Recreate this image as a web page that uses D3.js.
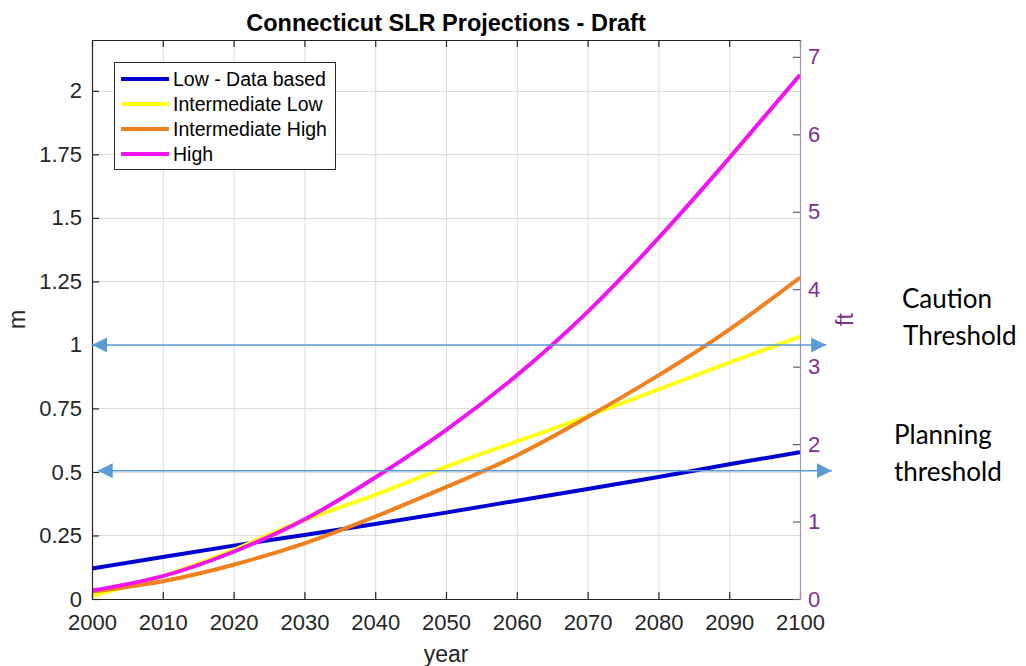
<!DOCTYPE html>
<html>
<head>
<meta charset="utf-8">
<script src="https://cdn.jsdelivr.net/npm/d3@7"></script>
<style>
  body { margin: 0; background: #fff; }
  svg text { font-family: "Liberation Sans", Arial, sans-serif; }
</style>
</head>
<body>
<svg id="chart" width="1026" height="666"></svg>
<script>
// Connecticut sea level rise projections, metres above the 2000 baseline
const years = [2000, 2010, 2020, 2030, 2040, 2050, 2060, 2070, 2080, 2090, 2100];
const lowDataBased     = [0.12, 0.165, 0.21, 0.252, 0.295, 0.34, 0.387, 0.433, 0.48, 0.53, 0.578];
const intermediateLow  = [0.012, 0.09, 0.193, 0.31, 0.41, 0.52, 0.62, 0.72, 0.825, 0.93, 1.033];
const intermediateHigh = [0.029, 0.07, 0.135, 0.219, 0.324, 0.44, 0.565, 0.716, 0.88, 1.06, 1.265];
const high             = [0.033, 0.09, 0.186, 0.313, 0.478, 0.665, 0.88, 1.13, 1.42, 1.735, 2.063];

const seriesNames = ["Low - Data based", "Intermediate Low", "Intermediate High", "High"];
const seriesValues = [lowDataBased, intermediateLow, intermediateHigh, high];
const seriesColors = ["#0000d2", "#ffff14", "#f0801e", "#f014f0"];

const xTicks = [2000, 2010, 2020, 2030, 2040, 2050, 2060, 2070, 2080, 2090, 2100];
const mTicks = [0, 0.25, 0.5, 0.75, 1, 1.25, 1.5, 1.75, 2];
const ftTicks = [0, 1, 2, 3, 4, 5, 6, 7];
const M_TO_FT = 3.28084;

// Threshold arrows (metres) and the year span each arrow covers
const thresholdLabels = [["Caution", "Threshold"], ["Planning", "threshold"]];
const thresholdValues = [1.0, 0.505];
const thresholdSpans = [[2000, 2103.7], [2000.8, 2104.5]];

const svg = d3.select("#chart");
const plotLeft = 92, plotRight = 800, plotTop = 40, plotBottom = 599;

const x = d3.scaleLinear().domain([2000, 2100]).range([plotLeft, plotRight]);
const y = d3.scaleLinear().domain([0, 2.2]).range([plotBottom, plotTop]);
const yFt = d3.scaleLinear().domain([0, 2.2 * M_TO_FT]).range([plotBottom, plotTop]);

const ink = "#262626";
const purple = "#7e2f8e";

// grid
const grid = svg.append("g").attr("stroke", "#dcdcdc").attr("stroke-width", 1);
grid.selectAll("line.v").data(xTicks.slice(1, -1)).join("line")
  .attr("class", "v")
  .attr("x1", d => x(d) + 0.5).attr("x2", d => x(d) + 0.5)
  .attr("y1", plotTop).attr("y2", plotBottom);
grid.selectAll("line.h").data(mTicks.slice(1)).join("line")
  .attr("class", "h")
  .attr("x1", plotLeft).attr("x2", plotRight)
  .attr("y1", d => Math.round(y(d)) + 0.5).attr("y2", d => Math.round(y(d)) + 0.5);

// series curves
svg.append("clipPath").attr("id", "plotClip")
  .append("rect").attr("x", plotLeft).attr("y", plotTop)
  .attr("width", plotRight - plotLeft).attr("height", plotBottom - plotTop);

const line = d3.line()
  .x((d, i) => x(years[i]))
  .y(d => y(d))
  .curve(d3.curveNatural);

svg.append("g").attr("clip-path", "url(#plotClip)")
  .selectAll("path").data(seriesValues).join("path")
  .attr("d", line)
  .attr("fill", "none")
  .attr("stroke", (d, i) => seriesColors[i])
  .attr("stroke-width", 4)
  .attr("stroke-linecap", "butt");

// axes
const fontSize = 22;
const styleAxis = (g, color, domainColor) => {
  g.selectAll(".domain").attr("stroke", domainColor || color).attr("stroke-width", 1.2);
  g.selectAll(".tick line").attr("stroke", color).attr("stroke-width", 1.2);
  g.selectAll(".tick text").attr("fill", color).style("font-size", fontSize + "px")
    .style("font-family", "'Liberation Sans', Arial, sans-serif");
};

svg.append("g").attr("transform", `translate(0,${plotBottom})`)
  .call(d3.axisBottom(x).tickValues(xTicks).tickFormat(d3.format("d")).tickSize(-7).tickSizeOuter(0).tickPadding(15))
  .call(g => styleAxis(g, ink));

svg.append("g").attr("transform", `translate(0,${plotTop})`)
  .call(d3.axisTop(x).tickValues(xTicks).tickFormat("").tickSize(-7).tickSizeOuter(0))
  .call(g => styleAxis(g, ink));

svg.append("g").attr("transform", `translate(${plotLeft},0)`)
  .call(d3.axisLeft(y).tickValues(mTicks).tickFormat(d => String(d)).tickSize(-7).tickSizeOuter(0).tickPadding(10))
  .call(g => styleAxis(g, ink));

svg.append("g").attr("transform", `translate(${plotRight},0)`)
  .call(d3.axisRight(yFt).tickValues(ftTicks).tickSize(-7).tickSizeOuter(0).tickPadding(8))
  .call(g => styleAxis(g, purple, "#a58fb4"))
  .call(g => g.selectAll(".tick line").attr("stroke", "#6a5a72"));

// titles
svg.append("text").attr("x", (plotLeft + plotRight) / 2).attr("y", 31)
  .attr("text-anchor", "middle").attr("fill", "#000")
  .style("font-size", "23.5px").style("font-weight", "bold")
  .text("Connecticut SLR Projections - Draft");

svg.append("text").attr("x", (plotLeft + plotRight) / 2).attr("y", 662)
  .attr("text-anchor", "middle").attr("fill", ink).style("font-size", "23px")
  .text("year");

svg.append("text").attr("transform", `translate(25,${(plotTop + plotBottom) / 2}) rotate(-90)`)
  .attr("text-anchor", "middle").attr("fill", ink).style("font-size", "23px")
  .text("m");

svg.append("text").attr("transform", `translate(853,${(plotTop + plotBottom) / 2}) rotate(-90)`)
  .attr("text-anchor", "middle").attr("fill", purple).style("font-size", "23px")
  .text("ft");

// legend
const legend = svg.append("g");
legend.append("rect").attr("x", 114.5).attr("y", 62.5).attr("width", 221).attr("height", 107)
  .attr("fill", "#fff").attr("stroke", ink).attr("stroke-width", 1);
const item = legend.selectAll("g.item").data(seriesNames).join("g")
  .attr("class", "item")
  .attr("transform", (d, i) => `translate(0,${79 + i * 25})`);
item.append("line").attr("x1", 121).attr("x2", 169).attr("y1", 0).attr("y2", 0)
  .attr("stroke", (d, i) => seriesColors[i]).attr("stroke-width", 4);
item.append("text").attr("x", 173).attr("y", 0).attr("dy", "0.36em")
  .attr("fill", "#000").style("font-size", "19.5px").text(d => d);

// threshold arrows
const arrowColor = "#5b9bd5";
svg.append("defs").append("marker")
  .attr("id", "arrowHead")
  .attr("viewBox", "0 0 10 10").attr("refX", 10).attr("refY", 5)
  .attr("markerWidth", 15).attr("markerHeight", 15)
  .attr("markerUnits", "userSpaceOnUse")
  .attr("orient", "auto-start-reverse")
  .append("path").attr("d", "M0,0 L10,5 L0,10 Z").attr("fill", arrowColor);

svg.append("g").selectAll("line").data(thresholdValues).join("line")
  .attr("x1", (d, i) => x(thresholdSpans[i][0]))
  .attr("x2", (d, i) => x(thresholdSpans[i][1]))
  .attr("y1", d => y(d)).attr("y2", d => y(d))
  .attr("stroke", arrowColor).attr("stroke-width", 1.5)
  .attr("marker-start", "url(#arrowHead)")
  .attr("marker-end", "url(#arrowHead)");

// threshold captions
const captionX = [[902, 903], [894, 894]];
const captionBaseline = [[308, 345], [444, 481]];
thresholdLabels.forEach((lines, i) => {
  lines.forEach((t, j) => {
    svg.append("text").attr("x", captionX[i][j]).attr("y", captionBaseline[i][j])
      .attr("fill", "#000")
      .style("font-family", "Lato, 'Open Sans', sans-serif")
      .style("font-size", "26px")
      .text(t);
  });
});
</script>
</body>
</html>
